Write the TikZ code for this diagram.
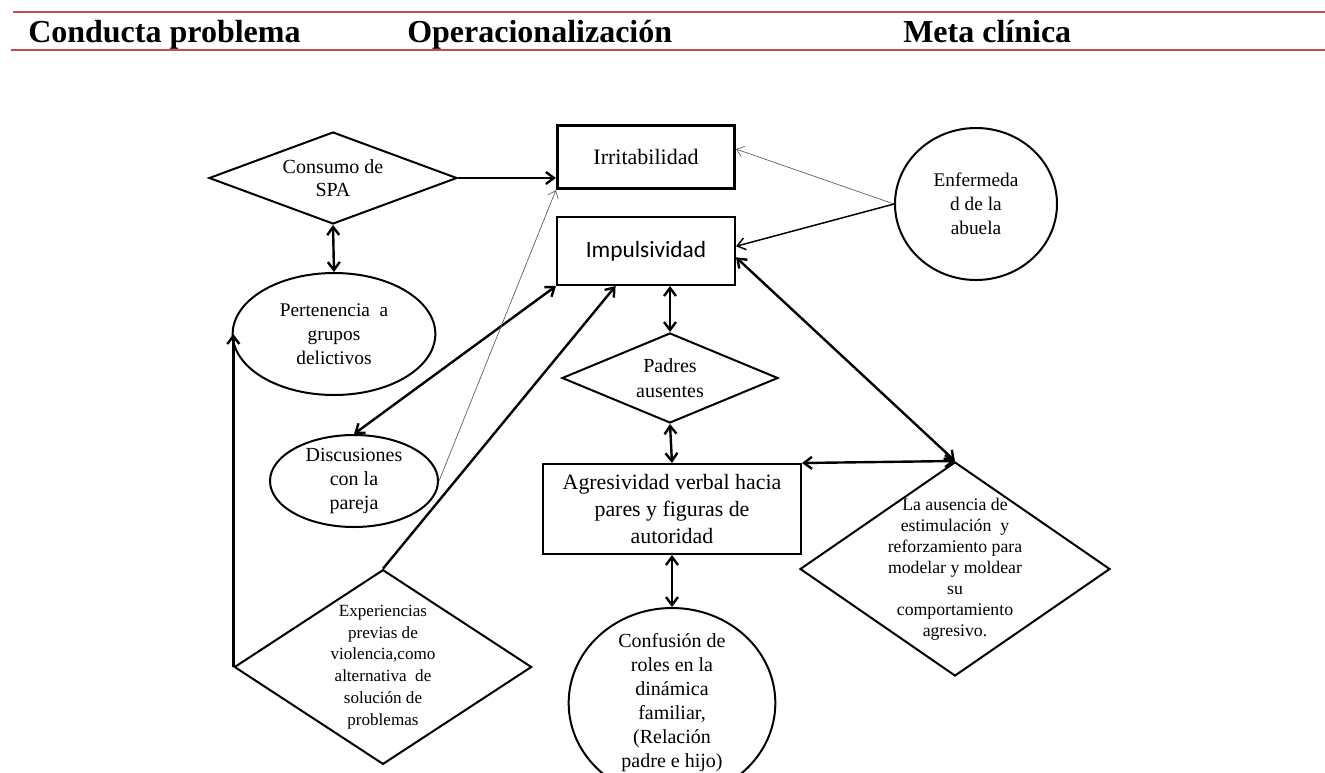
\documentclass[tikz,border=0pt]{standalone}
\usepackage{fontspec}
\setmainfont{Liberation Serif}
\newfontfamily\calibri{Carlito}
\usepackage{tikz}
\usetikzlibrary{shapes.geometric, arrows.meta}
\definecolor{headred}{RGB}{192,80,77}

\begin{document}
\begin{tikzpicture}[x=0.75pt, y=-0.75pt,
    head/.style={anchor=base west, inner sep=0pt, font=\bfseries\fontsize{24}{28}\selectfont},
    box/.style={rectangle, draw, line width=1.5pt, inner sep=0pt, align=center},
    oval/.style={ellipse, draw, line width=1.5pt, inner sep=0pt, align=center},
    diam/.style={diamond, draw, line width=1.5pt, inner sep=0pt, align=center},
    arr/.style={-{Straight Barb[length=6pt,width=9pt]}, line width=1.8pt},
    dbl/.style={{Straight Barb[length=6pt,width=9pt]}-{Straight Barb[length=6pt,width=9pt]}, line width=1.8pt},
    midarr/.style={-{Straight Barb[length=6pt,width=9pt]}, line width=1.1pt},
    thinarr/.style={-{Straight Barb[length=5pt,width=8pt]}, line width=0.5pt, black!65}]
            \useasboundingbox (0,0) rectangle (1325,772);

            % table header
            \draw [headred, line width=2pt] (13,12) -- (1325,12);
            \draw [headred, line width=2pt] (11,50) -- (1325,50);
            \node[head] at (28,42)  (h1) {Conducta problema};
            \node[head] at (407,42) (h2) {Operacionalización};
            \node[head] at (903,42) (h3) {Meta clínica};

            \node[diam, aspect=2.7, minimum width=186pt, minimum height=69pt, font=\fontsize{15}{17}\selectfont] at (333,178) (consumo) {Consumo de\\SPA};
            \node[box, line width=2.4pt, minimum width=132.75pt, minimum height=47.25pt, font=\fontsize{16.5}{20}\selectfont] at (646,157) (irrit) {Irritabilidad};
            \node[box, minimum width=133.5pt, minimum height=51pt, font=\calibri\fontsize{17.5}{21}\selectfont] at (646,251) (impuls) {Impulsividad};
            \node[oval, minimum width=152pt, minimum height=91.5pt, font=\fontsize{14.5}{18}\selectfont] at (334,334) (pert) {Pertenencia\ \ a\\grupos\\delictivos};
            \node[oval, inner sep=-3pt, minimum width=126pt, minimum height=69pt, font=\fontsize{15}{18}\selectfont] at (354,481) (disc) {Discusiones\\con la\\pareja};
            \node[diam, aspect=1.53, inner sep=-4pt, minimum width=223pt, minimum height=146pt, font=\fontsize{12.8}{16.3}\selectfont] at (383,667) (exp) {Experiencias\\previas de\\violencia,como\\alternativa\ \ de\\solución de\\problemas};
            \node[diam, aspect=2.4, minimum width=162pt, minimum height=67.5pt, font=\fontsize{15}{18.5}\selectfont] at (670,378) (padres) {Padres\\ausentes};
            \node[box, minimum width=193.5pt, minimum height=67.5pt, font=\fontsize{16.4}{20.5}\selectfont] at (672,509) (agres) {Agresividad\ verbal hacia\\pares y figuras de\\autoridad};
            \node[oval, inner sep=-5pt, minimum width=155pt, minimum height=142.5pt, font=\fontsize{15}{18}\selectfont] at (672,703) (conf) {Confusión de\\roles en la\\dinámica\\familiar,\\(Relación\\padre e hijo)};
            \node[oval, minimum width=121.5pt, minimum height=114pt, font=\fontsize{14.5}{18}\selectfont] at (976,204) (enferm) {Enfermeda\\d de la\\abuela};
            \node[diam, aspect=1.45, inner sep=-8pt, minimum width=232.5pt, minimum height=160.5pt, font=\fontsize{13.3}{15.8}\selectfont] at (955,569) (aus) {La ausencia de\\estimulación\ \ y\\reforzamiento para\\modelar y moldear\\su\\comportamiento\\agresivo.};

            \draw [arr] (consumo.east) -- (irrit.west |- consumo.east);
            \draw [dbl] (consumo.south) -- (pert.north);
            \draw [thinarr] (enferm.west) -- (irrit.5);
            \draw [midarr] (enferm.west) -- (impuls.3);
            \draw [dbl] (impuls.-4) -- (aus.north);
            \draw [dbl] (padres.north |- impuls.south) -- (padres.north);
            \draw [dbl] (padres.south) -- (agres.north);
            \draw [dbl] (agres.north east) -- (aus.north);
            \draw [dbl] (agres.south) -- (conf.north);
            \draw [dbl] (impuls.south west) -- (disc.north);
            \draw [thinarr] (disc.east) -- (irrit.south west);
            \draw [arr] (exp.north) -- (impuls.229);
            \draw [arr] (exp.west) -- (exp.west |- pert.west);
        \end{tikzpicture}
\end{document}
